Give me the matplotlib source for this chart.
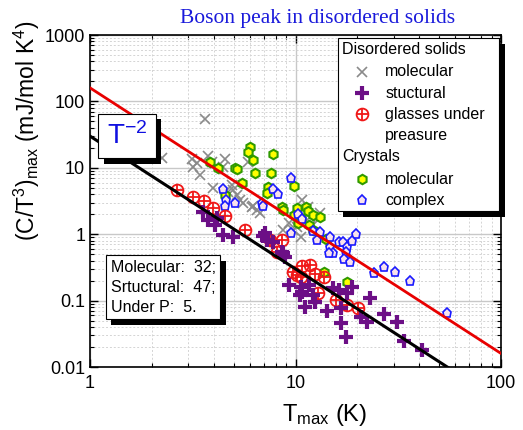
import numpy as np
import matplotlib.pyplot as plt
import matplotlib.patheffects as pe
from matplotlib.patches import Rectangle
from matplotlib.ticker import LogLocator, NullFormatter

plt.rcParams['font.family'] = ['Liberation Sans', 'DejaVu Sans']
plt.rcParams['mathtext.fontset'] = 'custom'
plt.rcParams['mathtext.rm'] = 'Liberation Sans'
plt.rcParams['mathtext.it'] = 'Liberation Sans:italic'


# Disordered solids: molecular glasses
mol_T = [3.64, 2.25, 3.15, 3.33, 3.18, 3.44, 3.76, 3.94, 4.56, 4.45, 3.98, 4.93,
         4.98, 5.21, 5.39, 5.9, 6.17, 6.53, 6.75, 9.25, 9.67, 10.6, 10.8, 11.5,
         11.8, 12.2, 13.2, 8.74, 5.57, 6.24, 4.7, 10.2]
mol_C = [55, 13.9, 13.4, 11.7, 10.2, 7.7, 14.9, 12.1, 13.4, 10.2, 4.9, 5.5,
         4.6, 3.9, 3.25, 12.1, 2.55, 2.3, 2.07, 1.46, 1.15, 0.90, 3.25, 2.55,
         1.8, 1.37, 2.07, 1.15, 3.0, 2.7, 4.3, 1.27]

# Disordered solids: structural glasses
str_T = [3.56, 4.16, 4.07, 4.45, 4.98, 6.98, 7.3, 7.81, 8.64, 8.94, 9.25, 10.6,
         10.5, 11.1, 12.2, 14.3, 15.3, 16.2, 16.6, 17.7, 18.8, 20.8, 22.4, 23.0,
         26.9, 31.1, 33.6, 41.2, 17.9, 12.4, 7.14, 8.74, 3.76, 11.6, 10.8, 16.6]
str_C = [2.14, 1.74, 1.37, 0.97, 0.90, 0.93, 0.81, 0.76, 0.54, 0.45, 0.171, 0.160,
         0.121, 0.080, 0.121, 0.070, 0.154, 0.144, 0.046, 0.028, 0.160, 0.056, 0.048, 0.109,
         0.063, 0.048, 0.025, 0.018, 0.130, 0.095, 1.03, 0.52, 1.62, 0.171, 0.134, 0.077]

# Disordered solids: glasses under pressure
prs_T = [2.66, 3.18, 3.6, 3.98, 4.56, 5.7, 7.55, 8.64, 8.17, 9.67, 10.8, 10.6,
         12.5, 13.8, 12.9, 15.7, 17.9, 20.1, 10.2, 11.8]
prs_C = [4.59, 3.6, 3.14, 2.46, 1.87, 1.15, 0.81, 0.81, 0.54, 0.268, 0.33, 0.226,
         0.25, 0.226, 0.13, 0.102, 0.086, 0.077, 0.242, 0.34]

# Crystals: molecular
cmol_T = [6.03, 5.9, 6.24, 7.81, 3.85, 4.21, 5.1, 5.21, 6.38, 7.64, 9.78, 7.38,
          7.3, 4.56, 5.51, 8.64, 8.74, 10.2, 11.2, 11.5, 9.78, 10.6, 12.2, 13.2,
          10.3, 14.0, 13.8, 17.9, 11.6, 12.1]
cmol_C = [20.3, 17.1, 13.0, 16.0, 12.1, 9.83, 9.83, 9.49, 8.26, 8.26, 5.27, 5.09,
          4.14, 3.86, 5.85, 2.55, 2.3, 2.46, 2.55, 2.22, 1.93, 1.74, 1.93, 1.80,
          1.46, 0.84, 0.268, 0.19, 1.37, 1.15]

# Crystals: complex
cpx_T = [9.46, 7.73, 8.26, 4.45, 4.61, 5.1, 4.56, 6.9, 6.98, 9.46, 10.3, 10.8,
         12.2, 12.7, 13.2, 14.8, 16.2, 17.1, 14.8, 15.3, 14.5, 17.9, 17.9, 19.6,
         18.8, 17.7, 17.3, 18.5, 24.0, 26.9, 30.4, 36.0, 54.5]
cpx_C = [6.95, 4.75, 4.0, 4.75, 3.25, 2.93, 2.64, 2.93, 2.64, 1.03, 2.0, 1.68,
         1.11, 0.81, 1.07, 0.90, 0.76, 0.76, 0.64, 0.52, 0.52, 0.64, 0.45, 1.0,
         0.785, 0.536, 0.42, 0.38, 0.26, 0.32, 0.27, 0.196, 0.065]

# T^-2 guide lines: C = A / T^2
red_A = 160
black_A = 30

GRAY = '#8a8a8a'
PURPLE = '#6c0f86'
RED = '#f01818'
GREEN = '#2f9a00'
YELLOW = '#ffff00'
BLUE = '#1a1aff'
PINK = '#f9e2ec'

styles = {
    'mol':  dict(marker='x', ls='none', color=GRAY, ms=7, mew=1.2),
    'str':  dict(marker='+', ls='none', color=PURPLE, ms=10, mew=3),
    'cmol': dict(marker='h', ls='none', mfc=YELLOW, mec=GREEN, ms=6.8, mew=1.5),
    'cpx':  dict(marker='p', ls='none', mfc=PINK, mec=BLUE, ms=6.5, mew=1.2),
}


def plot_oplus(ax, x, y, **kw):
    ax.plot(x, y, marker='o', ls='none', mfc='none', mec=RED, ms=8.5, mew=1.3, **kw)
    ax.plot(x, y, marker='+', ls='none', color=RED, ms=8.5, mew=1.3, **kw)


shadow = [pe.withSimplePatchShadow(offset=(4, -4), shadow_rgbFace='k', alpha=1.0)]

fig = plt.figure(figsize=(5.23, 4.3), dpi=100)
ax = fig.add_axes([90 / 523, 1 - 367 / 430, 411 / 523, 332 / 430])
ax.set_xscale('log')
ax.set_yscale('log')
ax.set_xlim(1, 100)
ax.set_ylim(0.01, 1000)

# grid
ax.grid(True, which='major', color='#c8c8c8', lw=1.0, ls='-')
ax.grid(True, which='minor', color='#d4d4d4', lw=0.7, ls=(0, (2, 2)))
ax.set_axisbelow(True)

# data
ax.plot(mol_T, mol_C, zorder=3, **styles['mol'])
ax.plot(cmol_T, cmol_C, zorder=3, **styles['cmol'])
ax.plot(cpx_T, cpx_C, zorder=3, **styles['cpx'])
plot_oplus(ax, prs_T, prs_C, zorder=3)
ax.plot(str_T, str_C, zorder=3, **styles['str'])

T = np.logspace(0, 2, 50)
ax.plot(T, red_A / T**2, color='#e80000', lw=2, zorder=4)
ax.plot(T, black_A / T**2, color='k', lw=2.2, zorder=4)

# ticks
ax.set_yticks([0.01, 0.1, 1, 10, 100, 1000])
ax.set_yticklabels(['0.01', '0.1', '1', '10', '100', '1000'])
ax.set_xticks([1, 10, 100])
ax.set_xticklabels(['1', '10', '100'])
ax.xaxis.set_minor_locator(LogLocator(base=10, subs=np.arange(2, 10)))
ax.yaxis.set_minor_locator(LogLocator(base=10, subs=np.arange(2, 10)))
ax.xaxis.set_minor_formatter(NullFormatter())
ax.yaxis.set_minor_formatter(NullFormatter())
ax.tick_params(which='both', direction='in', top=True, right=True, labelsize=13)
ax.tick_params(which='major', length=6, width=1)
ax.tick_params(which='minor', length=3, width=0.8)
ax.tick_params(axis='x', pad=6)
for s in ax.spines.values():
    s.set_linewidth(1.2)

ax.set_xlabel(r'T$_\mathrm{max}$ (K)', fontsize=17)
ax.xaxis.set_label_coords(0.57, -0.105)
ax.set_ylabel(r'(C/T$^3$)$_\mathrm{max}$ (mJ/mol K$^4$)', fontsize=16.5)
ax.yaxis.set_label_coords(-0.118, 0.71)

fig.text(318 / 523, 1 - 18 / 430, 'Boson peak in disordered solids', color='#1a1adb',
         family='Liberation Serif', fontsize=15.5, ha='center', va='center')

# T^-2 label
t = ax.text(0.09, 0.696, 'T$^{-2}$', transform=ax.transAxes, fontsize=20, color='#1010e0',
            ha='center', va='center', zorder=6,
            bbox=dict(boxstyle='square,pad=0.3', fc='white', ec='k', lw=0.8))
t.get_bbox_patch().set_path_effects(shadow)

# count box
t = ax.text(0.05, 0.24, 'Molecular:  32;\nSrtuctural:  47;\nUnder P:  5.',
            transform=ax.transAxes, fontsize=11.5, ha='left', va='center', zorder=6,
            linespacing=1.4,
            bbox=dict(boxstyle='square,pad=0.3', fc='white', ec='k', lw=0.8))
t.get_bbox_patch().set_path_effects(shadow)

# legend
box = Rectangle((0.603, 0.470), 0.392, 0.521, transform=ax.transAxes, fc='white',
                ec='k', lw=0.8, zorder=6, clip_on=False)
box.set_path_effects(shadow)
ax.add_patch(box)

hx, mx, tx = 0.613, 0.662, 0.718
rows = [0.955, 0.889, 0.825, 0.762, 0.696, 0.633, 0.566, 0.503]
lkw = dict(transform=ax.transAxes, fontsize=11.5, va='center', ha='left', zorder=7)
ax.text(hx, rows[0], 'Disordered solids', **lkw)
ax.text(tx, rows[1], 'molecular', **lkw)
ax.text(tx, rows[2], 'stuctural', **lkw)
ax.text(tx, rows[3], 'glasses under', **lkw)
ax.text(tx, rows[4], 'preasure', **lkw)
ax.text(hx, rows[5], 'Crystals', **lkw)
ax.text(tx, rows[6], 'molecular', **lkw)
ax.text(tx, rows[7], 'complex', **lkw)

mkw = dict(transform=ax.transAxes, clip_on=False, zorder=7)
ax.plot([mx], [rows[1]], **styles['mol'], **mkw)
ax.plot([mx], [rows[2]], **styles['str'], **mkw)
plot_oplus(ax, [mx], [rows[3]], **mkw)
ax.plot([mx], [rows[6]], **styles['cmol'], **mkw)
ax.plot([mx], [rows[7]], **styles['cpx'], **mkw)

fig.savefig('out.png', dpi=100)
